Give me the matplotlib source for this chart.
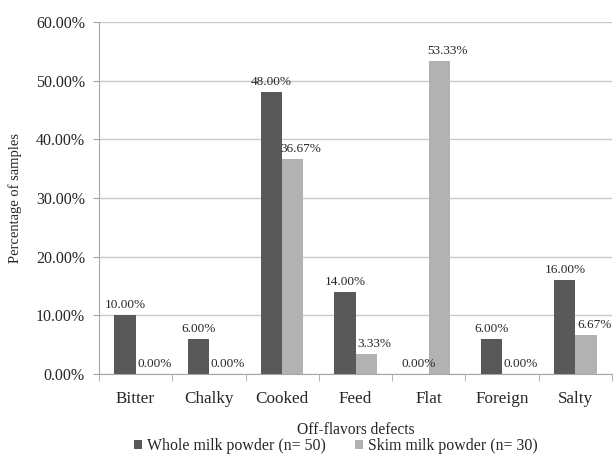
import numpy as np
import matplotlib.pyplot as plt
from matplotlib.ticker import FuncFormatter

plt.rcParams['font.family'] = ['Liberation Serif', 'DejaVu Serif']

defects = ['Bitter', 'Chalky', 'Cooked', 'Feed', 'Flat', 'Foreign', 'Salty']
whole = [10.00, 6.00, 48.00, 14.00, 0.00, 6.00, 16.00]
skim = [0.00, 0.00, 36.67, 3.33, 53.33, 0.00, 6.67]
series_names = ['Whole milk powder (n= 50)', 'Skim milk powder (n= 30)']

txt = '#262626'
fig = plt.figure(figsize=(6.14, 4.55), dpi=100)
ax = fig.add_axes([0.161, 0.178, 0.836, 0.774])

x = np.arange(len(defects))
w = 0.287
b1 = ax.bar(x - w/2, whole, w, color='#595959', label=series_names[0], zorder=3)
b2 = ax.bar(x + w/2, skim, w, color='#b2b2b2', label=series_names[1], zorder=3)

# value labels above each bar, skim labels sit a bit to the right
for rect, v in zip(b1, whole):
    ax.annotate('%.2f%%' % v, (rect.get_x() + rect.get_width()/2, v),
                xytext=(0, 3), textcoords='offset points',
                ha='center', va='bottom', fontsize=9.5, color=txt)
for rect, v in zip(b2, skim):
    ax.annotate('%.2f%%' % v, (rect.get_x() + rect.get_width()/2, v),
                xytext=(6, 3), textcoords='offset points',
                ha='center', va='bottom', fontsize=9.5, color=txt)

ax.set_xlim(-0.5, len(defects) - 0.5)
ax.set_ylim(0, 60)
ax.set_yticks(np.arange(0, 61, 10))
ax.yaxis.set_major_formatter(FuncFormatter(lambda v, p: '%.2f%%' % v))
ax.set_xticks(x)
ax.set_xticklabels(defects, fontsize=12.3, color=txt)
ax.set_xticks(np.arange(-0.5, len(defects)), minor=True)
ax.tick_params(axis='x', which='major', length=0, pad=12)
ax.tick_params(axis='x', which='minor', length=5, color='#a6a6a6', direction='out')
ax.tick_params(axis='y', length=4, color='#a6a6a6', labelsize=11.5, labelcolor=txt, pad=6)

ax.grid(axis='y', color='#c8c8c8', linewidth=1, zorder=0)
for s in ['top', 'right']:
    ax.spines[s].set_visible(False)
for s in ['left', 'bottom']:
    ax.spines[s].set_color('#a6a6a6')

ax.set_ylabel('Percentage of samples', fontsize=10.5, color=txt, labelpad=10)
ax.set_xlabel('Off-flavors defects', fontsize=11.2, color=txt, labelpad=11)

fig.legend(handles=[b1, b2], loc='center', bbox_to_anchor=(0.547, 0.02),
           ncol=2, frameon=False, fontsize=11.4, handlelength=0.5, handleheight=0.5,
           handletextpad=0.3, columnspacing=1.9, labelcolor=txt, borderpad=0)

fig.savefig('out.png', dpi=100)
